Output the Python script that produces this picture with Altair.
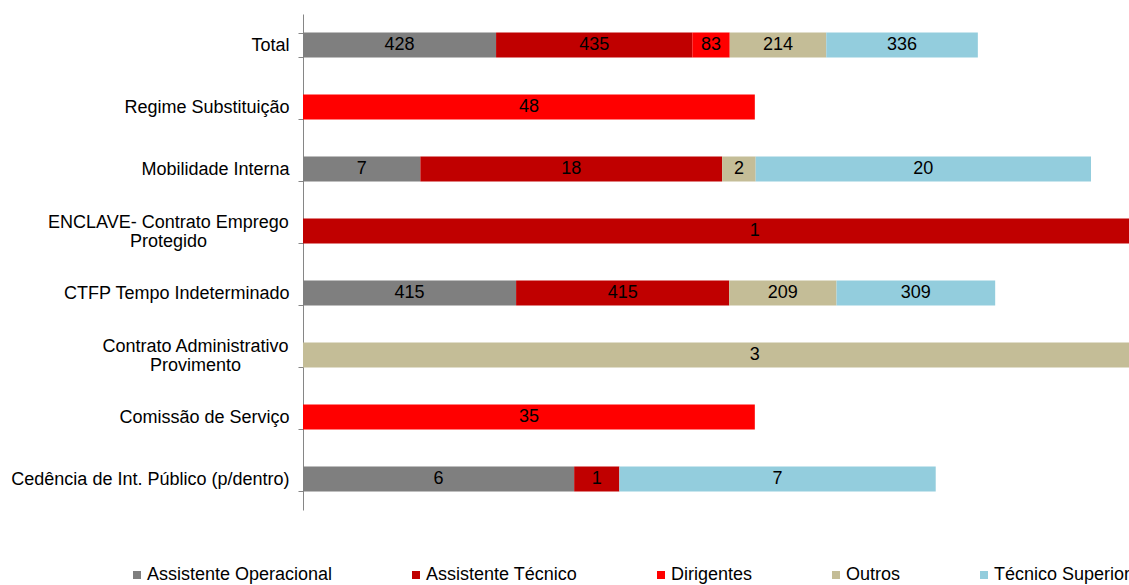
import altair as alt
import pandas as pd

rows = ["Total", "Regime Substituição", "Mobilidade Interna",
        "ENCLAVE- Contrato Emprego|Protegido", "CTFP Tempo Indeterminado",
        "Contrato Administrativo|Provimento", "Comissão de Serviço",
        "Cedência de Int. Público (p/dentro)"]
cats = ["Assistente Operacional", "Assistente Técnico", "Dirigentes", "Outros", "Técnico Superior"]
colors = ["#7F7F7F", "#C00000", "#FF0000", "#C4BD97", "#93CDDD"]

ass_operacional = [428, 0, 7, 0, 415, 0, 0, 6]
ass_tecnico = [435, 0, 18, 1, 415, 0, 0, 1]
dirigentes = [83, 48, 0, 0, 0, 0, 35, 0]
outros = [214, 0, 2, 0, 209, 3, 0, 0]
tec_superior = [336, 0, 20, 0, 309, 0, 0, 7]
# bar length of each row as a share of the visible axis (read from the picture;
# values above 1 run past the plot edge and are clipped)
row_extent = [0.817, 0.547, 0.954, 1.094, 0.838, 1.094, 0.547, 0.766]

series = [ass_operacional, ass_tecnico, dirigentes, outros, tec_superior]
recs = []
for i, r in enumerate(rows):
    tot = sum(s[i] for s in series)
    acc = 0.0
    for c, s in zip(cats, series):
        v = s[i]
        if v == 0:
            continue
        w = v / tot * row_extent[i]
        recs.append({"row": r, "cat": c, "value": v, "x0": acc, "x1": acc + w,
                     "mid": acc + w / 2})
        acc += w
df = pd.DataFrame(recs)

FONT = "Liberation Sans"

xscale = alt.Scale(domain=[0, 1], nice=False, zero=False)
yscale = alt.Scale(domain=rows, paddingInner=0.6, paddingOuter=0.3)

is_multi = "indexof(datum.label, '|') >= 0"
label_align = {"condition": {"test": is_multi, "value": "center"}, "value": "right"}
label_off = {"condition": {"test": is_multi, "value": -9}, "value": 0}
label_pad = {"condition": [
    {"test": "indexof(datum.label, 'ENCLAVE') >= 0", "value": 130},
    {"test": "indexof(datum.label, 'Provimento') >= 0", "value": 103},
], "value": 9}

bars = alt.Chart(df).mark_bar(clip=True).encode(
    x=alt.X("x0:Q", scale=xscale, axis=None),
    x2="x1:Q",
    y=alt.Y("row:N", scale=yscale, sort=rows, title=None,
            axis=alt.Axis(labelExpr="split(datum.label, '|')", labelFontSize=18,
                          labelFont=FONT, labelColor="#000000", labelLineHeight=19,
                          labelAlign=label_align, labelPadding=label_pad,
                          labelOffset=label_off,
                          tickBand="extent", tickSize=5,
                          tickColor="#868686", domainColor="#868686", labelLimit=400)),
    color=alt.Color("cat:N", scale=alt.Scale(domain=cats, range=colors),
                    legend=alt.Legend(title=None, orient="none", direction="horizontal",
                                      legendX=-175, legendY=552, symbolType="square",
                                      symbolSize=64, symbolStrokeWidth=0,
                                      labelFont=FONT, labelFontSize=18,
                                      labelColor="#000000", columnPadding=74,
                                      labelOffset=1, labelLimit=400)),
    order=alt.Order("x0:Q"),
)

labels = alt.Chart(df).mark_text(font=FONT, fontSize=18, color="#000000", clip=True).encode(
    x=alt.X("mid:Q", scale=xscale, axis=None),
    y=alt.Y("row:N", scale=yscale, sort=rows),
    text="value:Q",
)

chart = alt.layer(bars, labels).properties(
    width=826, height=496,
    background="white",
    autosize=alt.AutoSizeParams(type="none"),
    padding={"left": 303, "top": 14, "right": 0, "bottom": 75},
).configure_view(strokeWidth=0, stroke="transparent")

chart.save("out.html", embed_options={"renderer": "svg", "actions": False})
